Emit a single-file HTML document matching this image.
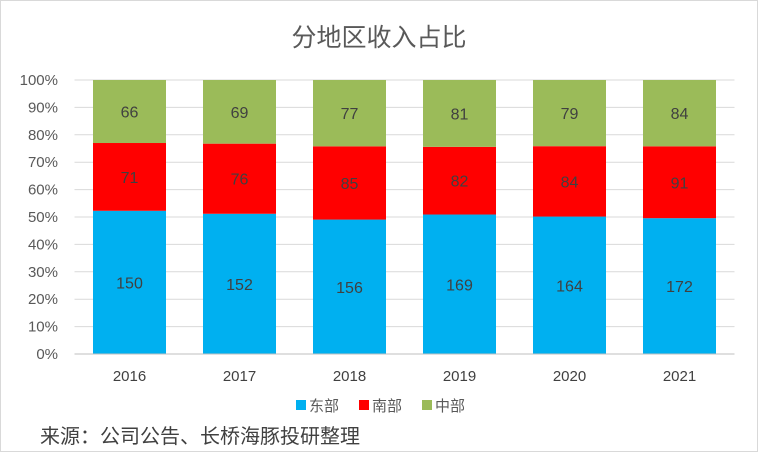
<!DOCTYPE html>
<html><head><meta charset="utf-8"><style>
body{margin:0;background:#fff;}
svg text{font-family:"Liberation Sans","Noto Sans CJK SC",sans-serif;}
</style></head><body>
<svg width="758" height="452" viewBox="0 0 758 452">
<rect x="0.5" y="0.5" width="757" height="451" fill="#fff" stroke="#d9d9d9"/>
<text x="379" y="46" text-anchor="middle" font-size="25" fill="#595959">分地区收入占比</text>
<g id="grid"></g><g id="bars"></g><g id="axes"></g>
<g>
<rect x="296" y="400" width="10" height="10" fill="#00b0f0"/>
<text x="309" y="411" font-size="15" fill="#595959">东部</text>
<rect x="359" y="400" width="10" height="10" fill="#ff0000"/>
<text x="372" y="411" font-size="15" fill="#595959">南部</text>
<rect x="422" y="400" width="10" height="10" fill="#9bbb59"/>
<text x="435" y="411" font-size="15" fill="#595959">中部</text>
</g>
<text x="40" y="443" font-size="20" fill="#404040">来源：公司公告、长桥海豚投研整理</text>
</svg>
<script>
const categories=["2016","2017","2018","2019","2020","2021"];
const east=[150,152,156,169,164,172];
const south=[71,76,85,82,84,91];
const central=[66,69,77,81,79,84];
const yTicks=["0%","10%","20%","30%","40%","50%","60%","70%","80%","90%","100%"];
const NS="http://www.w3.org/2000/svg";
const L=74.5,R=734.5,T=80,B=354;
const step=(R-L)/categories.length,bw=73;
const y=p=>B-(B-T)*p;
const x=i=>L+step*(i+0.5);
function mk(tag,attrs,parent){const e=document.createElementNS(NS,tag);for(const k in attrs)e.setAttribute(k,attrs[k]);parent.appendChild(e);return e;}
const grid=document.getElementById('grid'),bars=document.getElementById('bars'),axes=document.getElementById('axes');
yTicks.forEach((t,i)=>{const yy=y(i/10);
 const ln=mk('line',{x1:L,x2:R,y1:yy,y2:yy,stroke:'#d9d9d9'},grid);
 
 
 const tx=mk('text',{x:58,y:yy+5,'text-anchor':'end','font-size':15,fill:'#595959'},axes);
 tx.textContent=t;
 
 
});
const series=[[east,'#00b0f0','east'],[south,'#ff0000','south'],[central,'#9bbb59','central']];
categories.forEach((c,i)=>{
 const tot=east[i]+south[i]+central[i];let acc=0;
 series.forEach(([arr,col,nm])=>{
  const p0=acc/tot;acc+=arr[i];const p1=acc/tot;
  const r=mk('rect',{x:x(i)-bw/2,y:y(p1),width:bw,height:y(p0)-y(p1),fill:col},bars);
  
  
  const tx=mk('text',{x:x(i),y:(y(p0)+y(p1))/2+6,'text-anchor':'middle','font-size':16,fill:'#404040'},bars);
  tx.textContent=arr[i];
  
  
 });
 const tx=mk('text',{x:x(i),y:B+27,'text-anchor':'middle','font-size':15,fill:'#404040'},axes);
 tx.textContent=c;
 
 
});
const ax=mk('line',{x1:L,x2:R,y1:B,y2:B,stroke:'#bfbfbf'},axes);


</script>
</body></html>
